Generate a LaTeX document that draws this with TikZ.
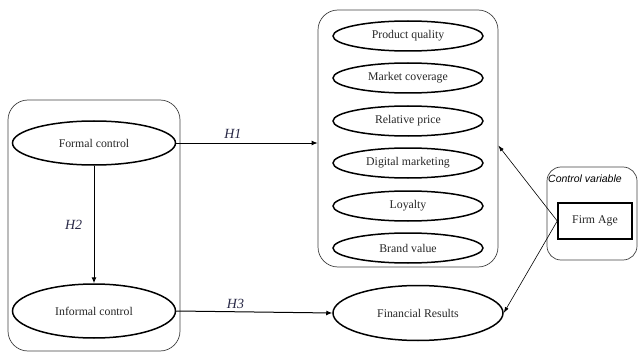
\documentclass[tikz,border=0pt]{standalone}
\usepackage{fontspec}
\setmainfont{Liberation Serif}
\setsansfont{Liberation Sans}
\usetikzlibrary{arrows.meta, shapes.geometric}

\tikzset{
  grp/.style={draw=black!75, line width=0.7pt, rounded corners=20pt},
  var/.style={ellipse, draw, line width=1.5pt, font=\fontsize{11.8}{13}\selectfont, text=black!85},
  hyp/.style={font=\fontsize{14}{16}\selectfont\itshape, text={rgb,255:red,40;green,40;blue,70}},
  link/.style={line width=1pt, -{Latex[length=6pt,width=5pt]}},
  thinlink/.style={line width=0.6pt, -{Latex[length=6pt,width=4pt]}}
}

\begin{document}
\begin{tikzpicture}[x=1pt, y=-1pt]
    \useasboundingbox (0,0) rectangle (638,353);
    % Left group
    \node[grp, minimum width=172pt, minimum height=251pt] (grpL) at (94,225.5) {};
    \node[var, minimum width=163pt, minimum height=44pt] (formal) at (94,143) {Formal control};
    \node[var, minimum width=163pt, minimum height=54pt] (informal) at (94,311) {Informal control};
    % Right group with dimensions
    \node[grp, minimum width=180pt, minimum height=257pt] (grpR) at (408,138.5) {};
    \node[var, minimum width=150pt, minimum height=30pt] (quality) at (408,36) {Product quality};
    \node[var, minimum width=150pt, minimum height=30pt] (coverage) at (408,78) {Market coverage};
    \node[var, minimum width=150pt, minimum height=30pt] (price) at (408,121) {Relative price};
    \node[var, minimum width=150pt, minimum height=30pt] (digital) at (408,163) {Digital marketing};
    \node[var, minimum width=150pt, minimum height=30pt] (loyalty) at (408,206) {Loyalty};
    \node[var, minimum width=150pt, minimum height=30pt] (brand) at (408,248) {Brand value};
    % Outcome
    \node[var, minimum width=170pt, minimum height=55pt] (fin) at (418,313) {Financial Results};
    % Control variable
    \node[grp, rounded corners=14pt, minimum width=90pt, minimum height=93pt] (grpC) at (592,213.5) {};
    \node[anchor=west, inner sep=0pt, font=\sffamily\itshape\fontsize{10.5}{12}\selectfont] (ctrl) at (548,179) {Control variable};
    \node[draw, line width=1.5pt, minimum width=74pt, minimum height=36pt, font=\fontsize{11.8}{13}\selectfont, text=black!85] (age) at (595,221) {Firm Age};
    % Hypotheses
    \draw[link] (formal.east) -- (formal.east -| grpR.west) node[hyp, pos=0.4, above=1pt] (h1) {H1};
    \draw[link] (formal.south) -- (informal.north) node[hyp, midway, left=8pt] (h2) {H2};
    \draw[link] (informal.east) -- (fin.west) node[hyp, pos=0.38, above=-1pt] (h3) {H3};
    % Control paths
    \draw[thinlink] (age.west) -- ([yshift=-7pt]grpR.east);
    \draw[thinlink] (age.west) -- (fin.east);
\end{tikzpicture}
\end{document}
